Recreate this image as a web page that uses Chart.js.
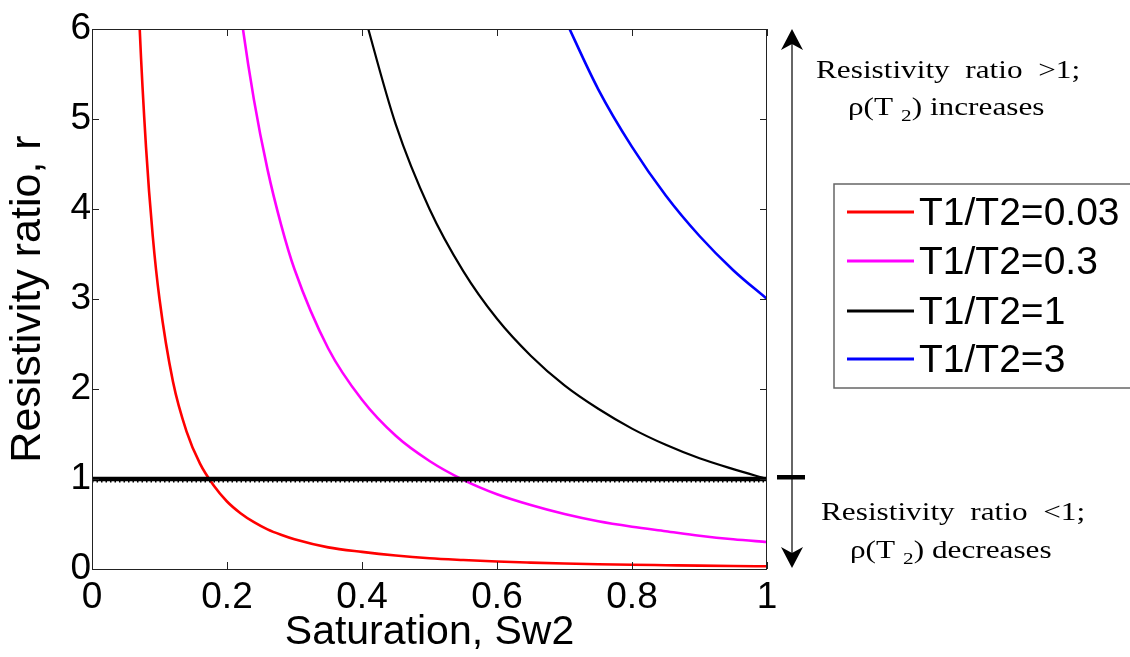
<!DOCTYPE html>
<html>
<head>
<meta charset="utf-8">
<script src="https://cdn.jsdelivr.net/npm/chart.js@4/dist/chart.umd.min.js"></script>
<style>
  html, body { margin: 0; padding: 0; background: #fff; }
  #wrap { width: 1130px; height: 657px; }
</style>
</head>
<body>
<div id="wrap"><canvas id="c"></canvas></div>
<script>
// saturation Sw2 sample points
const sw = [0.06, 0.07, 0.08, 0.09, 0.10, 0.12, 0.14, 0.16, 0.18, 0.20, 0.22, 0.24, 0.26, 0.28, 0.30,
            0.35, 0.40, 0.45, 0.50, 0.55, 0.60, 0.65, 0.70, 0.75, 0.80, 0.85, 0.90, 0.95, 1.00];

const rRed     = [8.33, 6.12, 4.69, 3.70, 3.00, 2.08, 1.53, 1.17, 0.93, 0.75, 0.62, 0.52, 0.44, 0.38, 0.33,
                  0.24, 0.19, 0.15, 0.12, 0.10, 0.083, 0.071, 0.061, 0.053, 0.047, 0.042, 0.037, 0.033, 0.03];
const rMagenta = [null, null, null, null, null, null, null, null, null, 7.5, 6.20, 5.21, 4.44, 3.83, 3.33,
                  2.45, 1.88, 1.48, 1.20, 0.99, 0.83, 0.71, 0.61, 0.53, 0.47, 0.42, 0.37, 0.33, 0.30];
const rBlack   = [null, null, null, null, null, null, null, null, null, null, null, null, null, null, null,
                  null, 6.25, 4.94, 4.00, 3.31, 2.78, 2.37, 2.04, 1.78, 1.56, 1.38, 1.23, 1.11, 1.00];
const rBlue    = [null, null, null, null, null, null, null, null, null, null, null, null, null, null, null,
                  null, null, null, null, null, null, null, 6.12, 5.33, 4.69, 4.15, 3.70, 3.32, 3.00];

const refX = [0, 1];
const refY = [1, 1];
const refDotsY = [0.97, 0.97];

const seriesLabels = ['T1/T2=0.03', 'T1/T2=0.3', 'T1/T2=1', 'T1/T2=3'];
const seriesColors = ['#ff0000', '#ff00ff', '#000000', '#0000ff'];
const xTickLabels = ['0', '0.2', '0.4', '0.6', '0.8', '1'];
const yTickLabels = ['0', '1', '2', '3', '4', '5', '6'];

const pts = (xs, ys) => xs.map((x, i) => ({ x: x, y: ys[i] })).filter(p => p.y !== null);

Chart.defaults.font.family = '"Liberation Sans", Arial, sans-serif';
Chart.defaults.color = '#000';

const curves = [rRed, rMagenta, rBlack, rBlue].map((ys, i) => ({
  label: seriesLabels[i],
  data: pts(sw, ys),
  borderColor: seriesColors[i],
  borderWidth: i === 2 ? 2.2 : 2.6,
  pointRadius: 0,
  cubicInterpolationMode: 'monotone',
  order: 5
}));

const serif = '"Liberation Serif", "Times New Roman", serif';

// text drawn a bit wider than the font, like the original export
function wideText(ctx, text, x, y, size, sx) {
  ctx.save();
  ctx.font = size + 'px ' + serif;
  ctx.translate(x, y);
  ctx.scale(sx, 1);
  ctx.fillText(text, 0, 0);
  const w = ctx.measureText(text).width * sx;
  ctx.restore();
  return w;
}

function rhoLine(ctx, x, y, rest) {
  let cx = x;
  cx += wideText(ctx, '\u03c1(T', cx, y, 25, 1.25) + 8;
  cx += wideText(ctx, '2', cx, y + 6, 17, 1.25);
  wideText(ctx, ')' + rest, cx, y, 25, 1.25);
}

// frame, inward ticks, custom legend and the side annotations
const decor = {
  id: 'decor',
  afterDraw(chart) {
    const ctx = chart.ctx;
    const a = chart.chartArea;
    const xs = chart.scales.x, ys = chart.scales.y;
    ctx.save();

    ctx.strokeStyle = '#222';
    ctx.lineWidth = 1;
    ctx.strokeRect(a.left + 0.5, a.top + 0.5, a.right - a.left - 1, a.bottom - a.top);

    ctx.beginPath();
    xs.ticks.forEach(t => {
      const px = Math.round(xs.getPixelForValue(t.value)) + 0.5;
      ctx.moveTo(px, a.bottom); ctx.lineTo(px, a.bottom - 7);
      ctx.moveTo(px, a.top); ctx.lineTo(px, a.top + 7);
    });
    ys.ticks.forEach(t => {
      const py = Math.round(ys.getPixelForValue(t.value)) + 0.5;
      ctx.moveTo(a.left, py); ctx.lineTo(a.left + 7, py);
      ctx.moveTo(a.right, py); ctx.lineTo(a.right - 7, py);
    });
    ctx.stroke();

    // legend
    ctx.strokeStyle = '#666';
    ctx.lineWidth = 1.5;
    ctx.strokeRect(834, 184, 330, 204);
    ctx.font = '39px "Liberation Sans", Arial, sans-serif';
    ctx.textBaseline = 'middle';
    ctx.fillStyle = '#000';
    const rows = [212, 261, 311, 359];
    seriesLabels.forEach((lab, i) => {
      ctx.strokeStyle = seriesColors[i];
      ctx.lineWidth = 3;
      ctx.beginPath();
      ctx.moveTo(847, rows[i]); ctx.lineTo(914, rows[i]);
      ctx.stroke();
      ctx.fillText(lab, 919, rows[i] + 2);
    });

    // arrow
    const ax = 792;
    ctx.strokeStyle = '#333';
    ctx.fillStyle = '#000';
    ctx.lineWidth = 1.5;
    ctx.beginPath();
    ctx.moveTo(ax, 40); ctx.lineTo(ax, 558);
    ctx.stroke();
    ctx.beginPath();
    ctx.moveTo(ax, 29); ctx.lineTo(ax + 11, 50); ctx.lineTo(ax, 44); ctx.lineTo(ax - 11, 50); ctx.closePath();
    ctx.fill();
    ctx.beginPath();
    ctx.moveTo(ax, 568); ctx.lineTo(ax + 11, 547); ctx.lineTo(ax, 553); ctx.lineTo(ax - 11, 547); ctx.closePath();
    ctx.fill();
    ctx.fillRect(777, 475, 28, 4.5);

    // annotation text
    ctx.textBaseline = 'alphabetic';
    ctx.textAlign = 'left';
    wideText(ctx, 'Resistivity  ratio  >1;', 816, 78, 25, 1.25);
    rhoLine(ctx, 848, 115, ' increases');
    wideText(ctx, 'Resistivity  ratio  <1;', 821, 520, 25, 1.25);
    rhoLine(ctx, 850, 558, ' decreases');

    ctx.restore();
  }
};

new Chart(document.getElementById('c'), {
  type: 'line',
  data: {
    datasets: [
      {
        label: 'r = 1',
        data: pts(refX, refY),
        borderColor: '#000',
        borderWidth: 4.5,
        pointRadius: 0,
        order: 1
      },
      {
        label: 'r = 1 markers',
        data: pts(refX, refDotsY),
        borderColor: '#000',
        borderWidth: 1.5,
        borderDash: [1.5, 3],
        pointRadius: 0,
        order: 2
      },
      ...curves
    ]
  },
  options: {
    responsive: true,
    maintainAspectRatio: false,
    animation: false,
    layout: { padding: { top: 29, right: 363, bottom: 0, left: 0 } },
    plugins: { legend: { display: false }, tooltip: { enabled: false } },
    scales: {
      x: {
        type: 'linear',
        min: 0, max: 1,
        afterFit: s => { s.height = 88; },
        afterBuildTicks: s => { s.ticks = xTickLabels.map(v => ({ value: parseFloat(v) })); },
        ticks: {
          font: { size: 37 },
          padding: 7,
          maxRotation: 0,
          callback: (v, i) => xTickLabels[i]
        },
        grid: { display: false, drawTicks: false },
        border: { display: false },
        title: { display: true, text: 'Saturation, Sw2', font: { size: 41 }, padding: { top: 0, bottom: 0 } }
      },
      y: {
        min: 0, max: 6,
        afterFit: s => { s.width = 92; },
        afterBuildTicks: s => { s.ticks = yTickLabels.map(v => ({ value: parseFloat(v) })); },
        ticks: {
          font: { size: 37 },
          padding: 1,
          callback: (v, i) => yTickLabels[i]
        },
        grid: { display: false, drawTicks: false },
        border: { display: false },
        title: { display: true, text: 'Resistivity ratio, r', font: { size: 43 }, padding: { top: 2, bottom: 0 } }
      }
    }
  },
  plugins: [decor]
});
</script>
</body>
</html>
